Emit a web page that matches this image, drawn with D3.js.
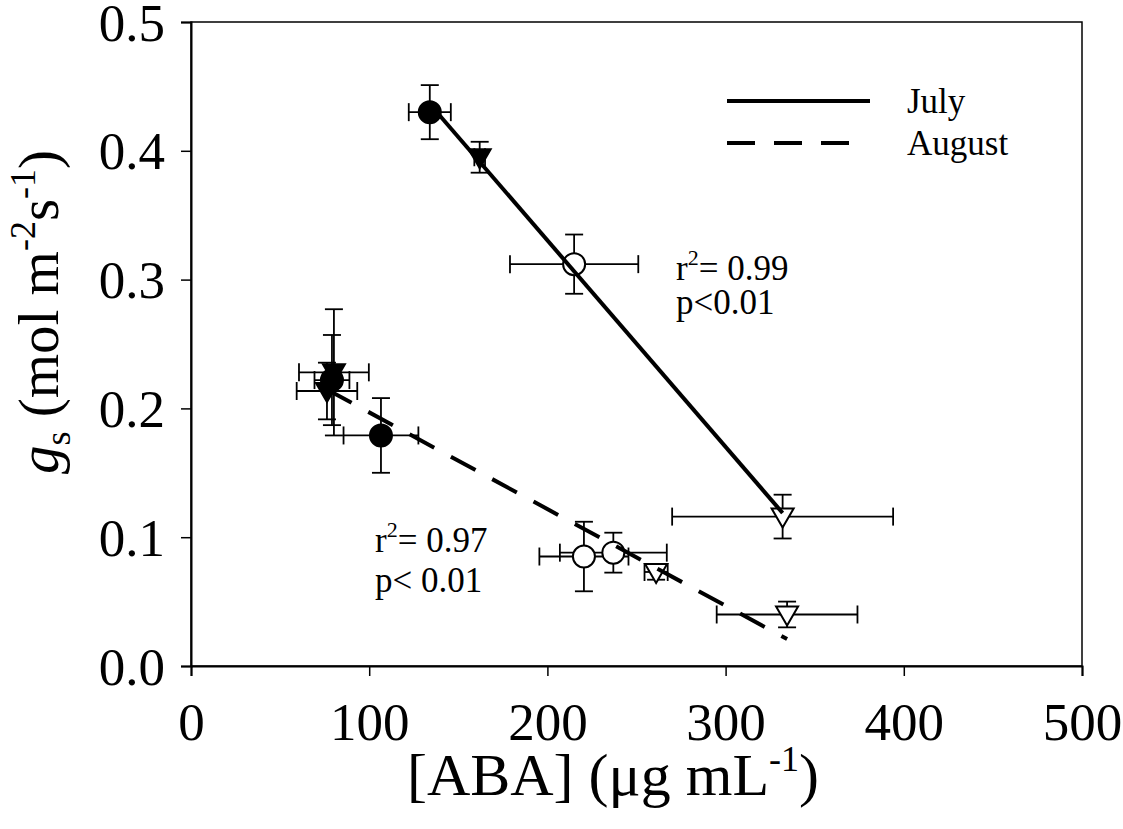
<!DOCTYPE html>
<html>
<head>
<meta charset="utf-8">
<script src="https://cdn.jsdelivr.net/npm/d3@7"></script>
<style>
  body { margin: 0; background: #fff; }
  text { font-family: "Liberation Serif", "Times New Roman", serif; fill: #000; }
</style>
</head>
<body>
<svg id="chart" width="1123" height="829"></svg>
<script>
// ---- data ----
const xTicks = [0, 100, 200, 300, 400, 500];
const yTicks = [0.0, 0.1, 0.2, 0.3, 0.4, 0.5];

// July
const julyX     = [134, 162, 215, 332];
const julyY     = [0.430, 0.395, 0.312, 0.116];
const julyXErr  = [11.8, 3, 36, 62];
const julyYErr  = [0.021, 0.012, 0.023, 0.017];
const julyShape = ["filledCircle", "filledTriangle", "openCircle", "openTriangle"];

// August
const augX     = [79.1, 80.2, 76.3, 106.6, 220.5, 237, 261, 334.5];
const augY     = [0.222, 0.228, 0.2135, 0.179, 0.085, 0.088, 0.073, 0.040];
const augXErr  = [9.8, 19.6, 17, 21, 25, 30, 6.5, 39.5];
const augYErr  = [0.035, 0.049, 0.022, 0.029, 0.027, 0.0155, 0.006, 0.010];
const augShape = ["filledCircle", "filledTriangle", "filledTriangle", "filledCircle",
                  "openCircle", "openCircle", "openTriangle", "openTriangle"];

const legendLabels = ["July", "August"];
const julyStats = ["0.99", "p<0.01"];
const augStats  = ["0.97", "p< 0.01"];

// ---- layout ----
const svg = d3.select("#chart");
const L = 191, R = 1082, T = 22, B = 666;
const x = d3.scaleLinear().domain([0, 500]).range([L, R]);
const y = d3.scaleLinear().domain([0, 0.5]).range([B, T]);

// frame
svg.append("rect").attr("x", L).attr("y", T).attr("width", R - L).attr("height", B - T)
  .attr("fill", "none").attr("stroke", "#000").attr("stroke-width", 1.5);

// axes
const TICK_FS = 53;
const xAxis = svg.append("g").attr("transform", `translate(0,${B})`)
  .call(d3.axisBottom(x).tickValues(xTicks).tickSize(10).tickPadding(26).tickFormat(d3.format("d")));
const yAxis = svg.append("g").attr("transform", `translate(${L},0)`)
  .call(d3.axisLeft(y).tickValues(yTicks).tickSize(10).tickPadding(16).tickFormat(d3.format(".1f")));
[xAxis, yAxis].forEach(g => {
  g.select(".domain").attr("stroke-width", 2);
  g.selectAll(".tick line").attr("stroke-width", 1.5);
  g.selectAll("text").style("font-family", '"Liberation Serif", serif').attr("font-size", TICK_FS).attr("fill", "#000");
});
yAxis.selectAll("text").attr("dy", "0.34em");
xAxis.selectAll("text").attr("dy", "0.71em");

// axis titles
const xt = svg.append("text").attr("x", 613).attr("y", 795)
  .attr("text-anchor", "middle").attr("font-size", 60);
xt.append("tspan").text("[ABA] (\u03bcg mL");
xt.append("tspan").attr("font-size", 36).attr("dy", -24).text("-1");
xt.append("tspan").attr("dy", 24).text(")");

const yt = svg.append("text").attr("transform", "translate(58,312) rotate(-90)")
  .attr("text-anchor", "middle").attr("font-size", 57);
yt.append("tspan").attr("font-style", "italic").text("g");
yt.append("tspan").attr("font-size", 36).attr("dy", 12).text("s");
yt.append("tspan").attr("dy", -12).text(" (mol m");
yt.append("tspan").attr("font-size", 36).attr("dy", -23).text("-2");
yt.append("tspan").attr("dy", 23).text("s");
yt.append("tspan").attr("font-size", 36).attr("dy", -23).text("-1");
yt.append("tspan").attr("dy", 23).text(")");

// ---- points ----
function series(xs, ys, xe, ye, sh) {
  return xs.map((v, i) => ({ x: v, y: ys[i], xe: xe[i], ye: ye[i], shape: sh[i] }));
}
const july = series(julyX, julyY, julyXErr, julyYErr, julyShape);
const aug  = series(augX, augY, augXErr, augYErr, augShape);
const all = aug.concat(july);

const cap = 9;
const eb = svg.append("g").attr("stroke", "#000").attr("stroke-width", 1.8).attr("fill", "none");
all.forEach(d => {
  const cx = x(d.x), cy = y(d.y);
  const x0 = x(d.x - d.xe), x1 = x(d.x + d.xe), y0 = y(d.y - d.ye), y1 = y(d.y + d.ye);
  eb.append("line").attr("x1", x0).attr("x2", x1).attr("y1", cy).attr("y2", cy);
  eb.append("line").attr("x1", x0).attr("x2", x0).attr("y1", cy - cap).attr("y2", cy + cap);
  eb.append("line").attr("x1", x1).attr("x2", x1).attr("y1", cy - cap).attr("y2", cy + cap);
  eb.append("line").attr("x1", cx).attr("x2", cx).attr("y1", y0).attr("y2", y1);
  eb.append("line").attr("x1", cx - cap).attr("x2", cx + cap).attr("y1", y0).attr("y2", y0);
  eb.append("line").attr("x1", cx - cap).attr("x2", cx + cap).attr("y1", y1).attr("y2", y1);
});

const tri = "M-11,-8L11,-8L0,11Z";
const mk = svg.append("g");
all.forEach(d => {
  const filled = d.shape.startsWith("filled");
  const el = d.shape.endsWith("Circle")
    ? mk.append("circle").attr("r", 11)
    : mk.append("path").attr("d", tri);
  el.attr("transform", `translate(${x(d.x)},${y(d.y)})`)
    .attr("fill", filled ? "#000" : "#fff")
    .attr("stroke", "#000").attr("stroke-width", 2);
});

// ---- regression lines (least squares on the points) ----
function fit(data) {
  const mx = d3.mean(data, d => d.x), my = d3.mean(data, d => d.y);
  const b = d3.sum(data, d => (d.x - mx) * (d.y - my)) / d3.sum(data, d => (d.x - mx) ** 2);
  const a = my - b * mx;
  const [lo, hi] = d3.extent(data, d => d.x);
  return [[lo, a + b * lo], [hi, a + b * hi]];
}
const line = d3.line().x(d => x(d[0])).y(d => y(d[1]));
svg.append("path").attr("d", line(fit(july))).attr("stroke", "#000").attr("stroke-width", 4).attr("fill", "none");
svg.append("path").attr("d", line(fit(aug))).attr("stroke", "#000").attr("stroke-width", 4)
  .attr("stroke-dasharray", "28,19").attr("fill", "none");

// ---- legend ----
const lg = svg.append("g");
lg.append("line").attr("x1", 727).attr("x2", 870).attr("y1", 101).attr("y2", 101)
  .attr("stroke", "#000").attr("stroke-width", 4);
lg.append("line").attr("x1", 727).attr("x2", 855).attr("y1", 143).attr("y2", 143)
  .attr("stroke", "#000").attr("stroke-width", 4).attr("stroke-dasharray", "28,19");
lg.append("text").attr("x", 907).attr("y", 113).attr("font-size", 35).text(legendLabels[0]);
lg.append("text").attr("x", 907).attr("y", 155).attr("font-size", 35).text(legendLabels[1]);

// ---- stats annotations ----
function stats(px, py, s, gap) {
  const t = svg.append("text").attr("x", px).attr("y", py).attr("font-size", 35);
  t.append("tspan").text("r");
  t.append("tspan").attr("font-size", 22).attr("dy", -15).text("2");
  t.append("tspan").attr("dy", 15).text("= " + s[0]);
  svg.append("text").attr("x", px).attr("y", py + gap).attr("font-size", 35).text(s[1]);
}
stats(676, 280, julyStats, 34);
stats(375, 552, augStats, 40);
</script>
</body>
</html>
